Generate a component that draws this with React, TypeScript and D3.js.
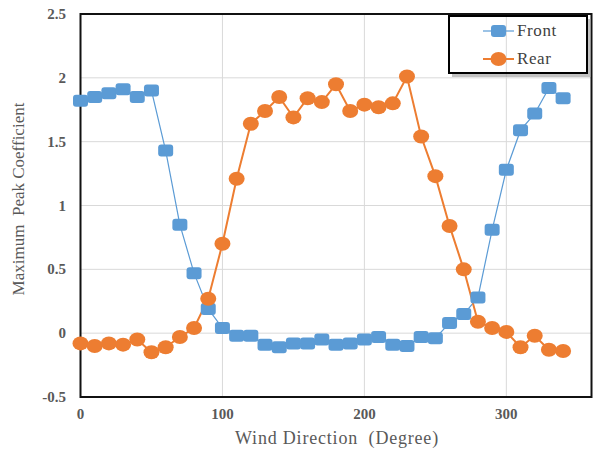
import React, { useEffect, useRef } from "react"
import * as d3 from "d3"

const directions = d3.range(0, 350, 10)
const frontValues = [
  1.82, 1.85, 1.88, 1.91, 1.85, 1.9, 1.43, 0.85, 0.47, 0.19, 0.04, -0.02, -0.02, -0.09,
  -0.11, -0.08, -0.08, -0.05, -0.09, -0.08, -0.05, -0.03, -0.09, -0.1, -0.03, -0.04,
  0.08, 0.15, 0.28, 0.81, 1.28, 1.59, 1.72, 1.92, 1.84,
]
const rearValues = [
  -0.08, -0.1, -0.08, -0.09, -0.05, -0.15, -0.11, -0.03, 0.04, 0.27, 0.7, 1.21, 1.64,
  1.74, 1.85, 1.69, 1.84, 1.81, 1.95, 1.74, 1.79, 1.77, 1.8, 2.01, 1.54, 1.23, 0.84,
  0.5, 0.09, 0.04, 0.01, -0.11, -0.02, -0.13, -0.14,
]
const xTicks = [0, 100, 200, 300]
const yTicks = [-0.5, 0, 0.5, 1, 1.5, 2, 2.5]

const App = () => {
  const ref = useRef<SVGSVGElement>(null)

  useEffect(() => {
    const width = 594
    const height = 450
    const m = { left: 80.5, right: 2.5, top: 14, bottom: 53 }
    const serif = "Liberation Serif, Times New Roman, Tinos, DejaVu Serif, serif"
    const blue = "#5B9BD5"
    const orange = "#ED7D31"
    const grey = "#595959"

    const svg = d3.select(ref.current)
    svg.selectAll("*").remove()
    svg.attr("width", width).attr("height", height)

    const x = d3.scaleLinear().domain([0, 360]).range([m.left, width - m.right])
    const y = d3.scaleLinear().domain([-0.5, 2.5]).range([height - m.bottom, m.top])

    svg.append("rect").attr("width", width).attr("height", height).attr("fill", "white")

    // Grid
    svg
      .append("g")
      .selectAll("line")
      .data(yTicks)
      .join("line")
      .attr("x1", m.left)
      .attr("x2", width - m.right)
      .attr("y1", (d) => y(d))
      .attr("y2", (d) => y(d))
      .attr("stroke", "#d9d9d9")
      .attr("stroke-width", 1)
    svg
      .append("g")
      .selectAll("line")
      .data(xTicks.slice(1))
      .join("line")
      .attr("x1", (d) => x(d))
      .attr("x2", (d) => x(d))
      .attr("y1", m.top)
      .attr("y2", height - m.bottom)
      .attr("stroke", "#d9d9d9")
      .attr("stroke-width", 1)

    // Frame
    svg
      .append("rect")
      .attr("x", m.left)
      .attr("y", m.top)
      .attr("width", width - m.right - m.left)
      .attr("height", height - m.bottom - m.top)
      .attr("fill", "none")
      .attr("stroke", "#111")
      .attr("stroke-width", 2)

    // Tick labels
    svg
      .append("g")
      .selectAll("text")
      .data(yTicks)
      .join("text")
      .attr("x", 66)
      .attr("y", (d) => y(d) + 5)
      .attr("text-anchor", "end")
      .style("font-family", serif)
      .attr("font-weight", "bold")
      .attr("font-size", 15)
      .attr("fill", grey)
      .text((d) => String(d))
    svg
      .append("g")
      .selectAll("text")
      .data(xTicks)
      .join("text")
      .attr("x", (d) => x(d))
      .attr("y", 419)
      .attr("text-anchor", "middle")
      .style("font-family", serif)
      .attr("font-weight", "bold")
      .attr("font-size", 15)
      .attr("fill", grey)
      .text((d) => String(d))

    // Axis titles
    svg
      .append("text")
      .attr("x", 337)
      .attr("y", 444)
      .attr("text-anchor", "middle")
      .style("font-family", serif)
      .attr("font-size", 18)
      .attr("letter-spacing", 0.8)
      .attr("fill", grey)
      .style("white-space", "pre")
      .text("Wind Direction  (Degree)")
    svg
      .append("text")
      .attr("transform", "translate(24,199) rotate(-90)")
      .attr("text-anchor", "middle")
      .style("font-family", serif)
      .attr("font-size", 17)
      .attr("fill", grey)
      .style("white-space", "pre")
      .text("Maximum  Peak Coefficient")

    const line = d3
      .line<number>()
      .x((_, i) => x(directions[i]))
      .y((d) => y(d))

    // Front series
    svg
      .append("path")
      .datum(frontValues)
      .attr("d", line)
      .attr("fill", "none")
      .attr("stroke", blue)
      .attr("stroke-width", 1.2)
    // Rear series
    svg
      .append("path")
      .datum(rearValues)
      .attr("d", line)
      .attr("fill", "none")
      .attr("stroke", orange)
      .attr("stroke-width", 2)

    svg
      .append("g")
      .selectAll("rect")
      .data(frontValues)
      .join("rect")
      .attr("x", (_, i) => x(directions[i]) - 7.5)
      .attr("y", (d) => y(d) - 6)
      .attr("width", 15)
      .attr("height", 12)
      .attr("rx", 3)
      .attr("fill", blue)
    svg
      .append("g")
      .selectAll("ellipse")
      .data(rearValues)
      .join("ellipse")
      .attr("cx", (_, i) => x(directions[i]))
      .attr("cy", (d) => y(d))
      .attr("rx", 8)
      .attr("ry", 7)
      .attr("fill", orange)

    // Legend
    const lg = svg.append("g")
    lg.append("path")
      .attr("d", "M452,74 H591 V19 H588 V74 M452,74 V77 H591 V74")
      .attr("fill", "#999")
      .attr("opacity", 0.6)
    lg.append("rect")
      .attr("x", 449)
      .attr("y", 16)
      .attr("width", 138)
      .attr("height", 57)
      .attr("fill", "none")
      .attr("stroke", "#000")
      .attr("stroke-width", 2)
    const items = [
      { name: "Front", color: blue, w: 1.2, cy: 31, square: true },
      { name: "Rear", color: orange, w: 2, cy: 59, square: false },
    ]
    items.forEach((it) => {
      lg.append("line")
        .attr("x1", 483)
        .attr("x2", 514)
        .attr("y1", it.cy)
        .attr("y2", it.cy)
        .attr("stroke", it.color)
        .attr("stroke-width", it.w)
      if (it.square) {
        lg.append("rect")
          .attr("x", 491)
          .attr("y", it.cy - 6)
          .attr("width", 15)
          .attr("height", 12)
          .attr("rx", 3)
          .attr("fill", it.color)
      } else {
        lg.append("ellipse")
          .attr("cx", 498.5)
          .attr("cy", it.cy)
          .attr("rx", 8)
          .attr("ry", 7)
          .attr("fill", it.color)
      }
      lg.append("text")
        .attr("x", 517)
        .attr("y", it.cy + 5)
        .style("font-family", serif)
        .attr("font-size", 17)
        .attr("letter-spacing", 0.6)
        .attr("fill", "#404040")
        .text(it.name)
    })
  }, [])

  return <svg ref={ref} style={{ position: "absolute", left: 0, top: 0 }}></svg>
}

export default App
